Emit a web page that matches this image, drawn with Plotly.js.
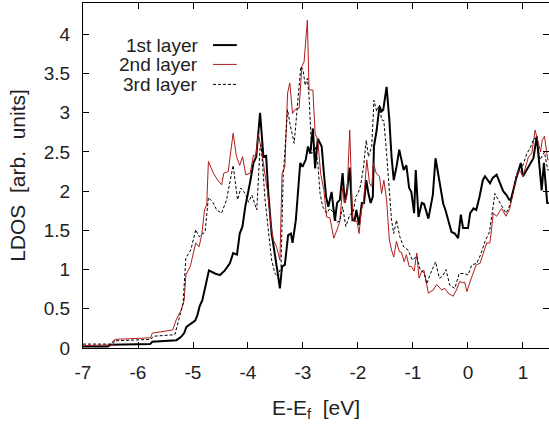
<!DOCTYPE html>
<html><head><meta charset="utf-8">
<script src="https://cdn.plot.ly/plotly-3.0.1.min.js"></script>
<style>html,body{margin:0;padding:0;background:#fff}#chart{width:549px;height:426px}</style>
</head><body><div id="chart"></div>
<script>
// ---- data ----
const seriesNames = ["1st layer", "2nd layer", "3rd layer"];

const layer1E = [-7.00,-6.55,-6.50,-6.00,-5.78,-5.74,-5.40,-5.30,-5.22,-5.16,-5.12,-5.04,-4.96,-4.92,-4.88,-4.83,-4.79,-4.75,-4.71,-4.60,-4.51,-4.42,-4.33,-4.27,-4.20,-4.15,-4.10,-4.05,-4.01,-3.96,-3.90,-3.85,-3.78,-3.72,-3.67,-3.63,-3.57,-3.51,-3.45,-3.42,-3.38,-3.33,-3.27,-3.22,-3.19,-3.13,-3.05,-3.01,-2.95,-2.91,-2.87,-2.82,-2.78,-2.73,-2.66,-2.62,-2.58,-2.54,-2.48,-2.42,-2.38,-2.33,-2.28,-2.24,-2.20,-2.15,-2.10,-2.06,-2.03,-1.98,-1.93,-1.89,-1.85,-1.81,-1.77,-1.73,-1.71,-1.66,-1.61,-1.57,-1.54,-1.48,-1.43,-1.39,-1.35,-1.30,-1.25,-1.21,-1.17,-1.12,-1.07,-1.03,-0.98,-0.95,-0.90,-0.84,-0.80,-0.72,-0.64,-0.59,-0.52,-0.45,-0.41,-0.36,-0.30,-0.24,-0.18,-0.13,-0.09,0.00,0.04,0.10,0.15,0.21,0.27,0.31,0.40,0.45,0.52,0.64,0.70,0.75,0.78,0.88,0.93,0.96,1.00,1.05,1.13,1.19,1.25,1.29,1.34,1.38,1.44,1.47];
const layer1 = [0.02,0.02,0.04,0.05,0.05,0.08,0.09,0.10,0.14,0.19,0.27,0.31,0.35,0.42,0.53,0.61,0.74,0.86,0.99,0.95,0.93,0.99,1.08,1.21,1.19,1.46,1.55,1.80,1.93,2.12,2.36,2.44,3.00,2.44,2.45,1.97,1.46,1.21,0.91,0.76,1.04,1.06,1.44,1.46,1.34,1.63,2.36,2.31,2.40,2.57,2.48,2.80,2.29,2.67,2.57,2.23,1.93,1.80,1.99,1.62,1.85,1.89,2.23,1.85,2.00,2.30,1.63,1.63,1.76,1.57,1.85,1.85,2.14,1.97,1.85,1.93,2.57,2.78,3.08,3.02,3.04,3.33,2.91,2.44,2.14,2.31,2.53,2.40,2.27,2.33,2.04,1.99,1.72,2.27,1.67,1.85,1.84,1.65,1.95,2.42,2.10,1.84,1.76,1.63,1.48,1.46,1.40,1.70,1.53,1.53,1.72,1.78,1.76,1.93,2.14,2.19,2.10,2.17,2.21,2.00,1.95,1.89,1.89,2.17,2.29,2.36,2.19,2.25,2.33,2.42,2.70,2.36,2.01,2.36,1.85,1.85];

const layer2E = [-7.00,-6.45,-6.42,-6.00,-5.77,-5.74,-5.37,-5.30,-5.21,-5.16,-5.13,-5.05,-4.99,-4.95,-4.89,-4.84,-4.79,-4.75,-4.72,-4.63,-4.54,-4.48,-4.44,-4.36,-4.27,-4.21,-4.15,-4.10,-4.04,-3.96,-3.90,-3.86,-3.81,-3.75,-3.64,-3.58,-3.54,-3.48,-3.42,-3.38,-3.33,-3.28,-3.24,-3.19,-3.15,-3.07,-3.02,-2.98,-2.92,-2.89,-2.82,-2.78,-2.73,-2.68,-2.62,-2.57,-2.51,-2.44,-2.36,-2.33,-2.28,-2.24,-2.20,-2.15,-2.10,-2.06,-2.02,-1.98,-1.94,-1.90,-1.84,-1.79,-1.75,-1.72,-1.67,-1.61,-1.57,-1.53,-1.48,-1.43,-1.39,-1.35,-1.30,-1.25,-1.21,-1.16,-1.12,-1.07,-1.03,-0.98,-0.93,-0.89,-0.84,-0.80,-0.72,-0.63,-0.57,-0.48,-0.42,-0.36,-0.27,-0.21,-0.15,-0.09,-0.06,-0.02,0.06,0.15,0.22,0.28,0.34,0.40,0.46,0.52,0.61,0.69,0.76,0.82,0.90,0.95,1.00,1.10,1.16,1.22,1.28,1.32,1.35,1.39,1.45,1.47];
const layer2 = [0.03,0.04,0.11,0.12,0.13,0.19,0.23,0.37,0.49,0.61,0.93,1.04,1.21,1.34,1.29,1.45,1.76,1.83,2.38,2.23,2.13,2.08,2.23,2.25,2.74,2.44,2.33,2.44,2.21,2.23,2.46,2.44,2.73,2.50,1.97,1.55,1.38,1.29,1.12,2.23,2.31,3.25,3.38,2.99,3.04,3.06,3.59,3.65,4.18,3.29,3.29,2.74,2.65,2.23,2.01,1.67,1.66,1.40,1.55,1.62,2.04,1.85,1.95,2.78,1.67,1.61,1.62,1.46,1.76,1.85,2.40,2.10,2.06,2.36,2.23,2.19,1.97,2.14,1.89,1.38,1.25,1.16,1.36,1.23,1.22,1.10,1.19,1.04,1.04,0.98,1.21,0.89,0.98,0.99,0.70,0.74,0.81,0.74,0.76,0.70,0.66,0.74,0.85,0.83,0.84,0.72,0.89,1.06,1.08,1.21,1.34,1.34,1.72,1.68,1.78,1.68,1.78,1.97,2.25,2.25,2.19,2.44,2.48,2.78,2.59,2.50,2.65,2.70,2.40,2.40];

const layer3E = [-7.00,-6.48,-6.45,-6.00,-5.77,-5.72,-5.45,-5.33,-5.24,-5.18,-5.13,-5.04,-4.95,-4.89,-4.84,-4.78,-4.72,-4.63,-4.57,-4.48,-4.39,-4.27,-4.19,-4.13,-4.05,-3.99,-3.93,-3.87,-3.84,-3.78,-3.76,-3.69,-3.63,-3.57,-3.51,-3.45,-3.40,-3.36,-3.28,-3.24,-3.16,-3.10,-3.04,-3.00,-2.96,-2.92,-2.89,-2.84,-2.78,-2.73,-2.69,-2.64,-2.57,-2.51,-2.44,-2.39,-2.33,-2.28,-2.22,-2.15,-2.09,-2.04,-2.00,-1.95,-1.90,-1.85,-1.81,-1.75,-1.71,-1.66,-1.61,-1.57,-1.53,-1.48,-1.43,-1.39,-1.35,-1.30,-1.24,-1.17,-1.09,-1.01,-0.93,-0.87,-0.80,-0.75,-0.68,-0.59,-0.52,-0.46,-0.40,-0.33,-0.24,-0.16,-0.06,0.00,0.07,0.16,0.23,0.31,0.39,0.45,0.49,0.55,0.63,0.69,0.74,0.80,0.88,0.97,1.07,1.13,1.20,1.24,1.31,1.39,1.45,1.47];
const layer3 = [0.05,0.05,0.09,0.10,0.11,0.15,0.16,0.17,0.41,0.57,1.15,1.25,1.51,1.42,1.45,1.48,1.92,1.85,1.76,1.72,1.89,2.33,1.89,2.04,1.97,1.86,1.95,1.80,1.76,2.57,2.59,1.89,1.46,1.12,0.95,0.91,1.04,2.19,3.04,2.87,2.61,3.08,3.59,3.55,3.35,3.44,3.21,2.48,2.57,2.36,1.97,1.80,1.72,1.78,1.72,1.60,1.62,1.80,1.55,1.70,1.72,1.93,1.97,2.08,2.31,2.65,2.44,2.57,3.16,3.02,3.10,2.91,2.90,2.48,2.02,1.63,1.46,1.63,1.42,1.29,1.25,1.12,1.17,1.00,0.96,0.82,0.95,1.10,0.89,0.92,1.00,0.80,0.76,0.95,0.95,0.93,1.06,1.08,1.19,1.36,1.48,1.80,1.97,1.89,1.80,1.72,1.78,1.93,2.21,2.27,2.48,2.55,2.67,2.67,2.40,2.50,2.27,2.27];

const xTickVals = [-7,-6,-5,-4,-3,-2,-1,0,1];
const xTickText = ["-7","-6","-5","-4","-3","-2","-1","0","1"];
const yTickVals = [0,0.5,1,1.5,2,2.5,3,3.5,4];
const yTickText = ["0","0.5","1","1.5","2","2.5","3","3.5","4"];

// ---- styles ----
const FONT = "Liberation Sans, Arial, Helvetica, sans-serif";
const TXT = "#222";
const styles = [
  {color:"#000000", width:2, dash:"solid"},
  {color:"#b01c1c", width:1, dash:"solid"},
  {color:"#000000", width:1, dash:"3px,2px"}
];
const xs = [layer1E, layer2E, layer3E];
const ys = [layer1, layer2, layer3];

const traces = seriesNames.map((n,i)=>({
  type:"scatter", mode:"lines", name:n, x:xs[i], y:ys[i],
  line:{color:styles[i].color, width:styles[i].width, dash:styles[i].dash},
  showlegend:false, hoverinfo:"skip"
}));

// custom gnuplot-style legend (text right, sample at right)
const legX = 0.251, legS0 = 0.279, legS1 = 0.330;
const legY = [0.878, 0.822, 0.764];
const annotations = seriesNames.map((n,i)=>({
  xref:"paper", yref:"paper", x:legX, y:legY[i], xanchor:"right", yanchor:"middle",
  text:n, showarrow:false, font:{family:FONT, size:19, color:TXT}
}));
const shapes = seriesNames.map((n,i)=>({
  type:"line", xref:"paper", yref:"paper", x0:legS0, x1:legS1, y0:legY[i], y1:legY[i],
  line:{color:styles[i].color, width:styles[i].width, dash:styles[i].dash}
}));

const axisCommon = {
  showgrid:false, zeroline:false, showline:true, linecolor:"#000", linewidth:1,
  mirror:"ticks", ticks:"inside", ticklen:6, tickwidth:1, tickcolor:"#000",
  tickfont:{family:FONT, size:19, color:TXT}
};

const layout = {
  width:549, height:426,
  margin:{l:83, r:0, t:3, b:78, pad:0},
  paper_bgcolor:"#fff", plot_bgcolor:"#fff",
  showlegend:false,
  xaxis:Object.assign({}, axisCommon, {
    range:[-7, 1.473], tickmode:"array", tickvals:xTickVals, ticktext:xTickText,
    ticklabelstandoff:7,
    title:{text:"E-E<sub>f</sub>  [eV]", font:{family:FONT, size:21, color:TXT}, standoff:18}
  }),
  yaxis:Object.assign({}, axisCommon, {
    range:[0, 4.4], tickmode:"array", tickvals:yTickVals, ticktext:yTickText,
    ticklabelstandoff:8,
    title:{text:"LDOS  [arb.  units]", font:{family:FONT, size:21, color:TXT}, standoff:12}
  }),
  annotations:annotations, shapes:shapes
};

Plotly.newPlot("chart", traces, layout, {displayModeBar:false, staticPlot:true});
</script>
</body></html>
